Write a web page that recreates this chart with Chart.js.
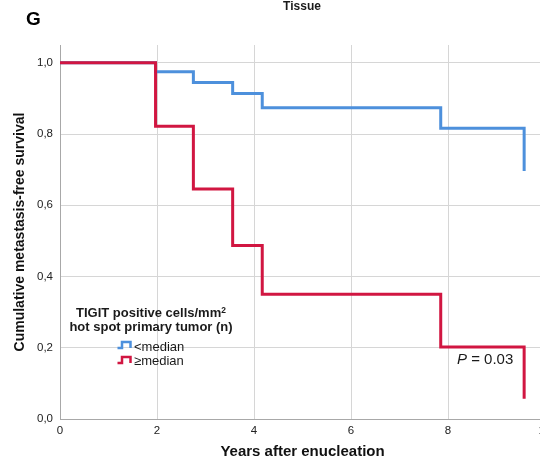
<!DOCTYPE html>
<html>
<head>
<meta charset="utf-8">
<title>Tissue</title>
<script src="https://cdn.jsdelivr.net/npm/chart.js@4.4.1/dist/chart.umd.min.js"></script>
<style>
  html, body { margin: 0; padding: 0; background: #fff; overflow: hidden; }
  #wrap {
    position: relative; width: 560px; height: 462px;
    font-family: 'Liberation Sans', Arial, Helvetica, sans-serif; color: #1a1a1a;
  }
  #km { position: absolute; left: 0; top: 0; }
  .txt { position: absolute; white-space: nowrap; }
  .panel { left: 26px; top: 9px; font-size: 19px; line-height: 19px; font-weight: bold; color: #000; }
  .title { left: 252px; width: 100px; top: 0; text-align: center; font-size: 12px; line-height: 12px; font-weight: bold; }
  .lg-head { left: 51px; width: 200px; text-align: center; font-size: 13px; line-height: 13px; font-weight: bold; }
  .lg-head sup { font-size: 0.65em; line-height: 0; vertical-align: 0.5em; }
  .lg-item { left: 134px; font-size: 13px; line-height: 13px; }
  .lg-icon { position: absolute; left: 117px; }
  .pval { left: 457px; top: 351px; font-size: 15px; line-height: 15px; }
</style>
</head>
<body>
<div id="wrap">
  <canvas id="km" width="560" height="462"></canvas>
  <div class="txt panel">G</div>
  <div class="txt title">Tissue</div>
  <div class="txt lg-head" style="top:306px">TIGIT positive cells/mm<sup>2</sup></div>
  <div class="txt lg-head" style="top:320px">hot spot primary tumor (n)</div>
  <svg class="lg-icon" style="top:340px" width="17" height="10">
    <path d="M0.5 8 H5 V2 H13.5 V8" fill="none" stroke="#4d90dc" stroke-width="2.5"/>
  </svg>
  <div class="txt lg-item" style="top:340px">&lt;median</div>
  <svg class="lg-icon" style="top:355px" width="17" height="10">
    <path d="M0.5 8 H5 V2 H13.5 V8" fill="none" stroke="#d11641" stroke-width="2.5"/>
  </svg>
  <div class="txt lg-item" style="top:354px">≥median</div>
  <div class="txt pval"><i>P</i> = 0.03</div>
</div>
<script>
// Kaplan-Meier steps: years after enucleation and survival after each event
const belowYears = [0, 1.97, 2.75, 3.56, 4.17, 7.85, 9.57];
const belowSurvival = [1, 0.975, 0.945, 0.914, 0.874, 0.816, 0.696];
const aboveYears = [0, 1.97, 2.75, 3.56, 4.17, 7.85, 9.57];
const aboveSurvival = [1, 0.822, 0.646, 0.487, 0.35, 0.202, 0.057];

const xTicks = [0, 2, 4, 6, 8, 10];
const yTicks = [0, 0.2, 0.4, 0.6, 0.8, 1.0];

const toPoints = (xs, ys) => xs.map((x, i) => ({ x, y: ys[i] }));

Chart.defaults.font.family = "'Liberation Sans', Arial, Helvetica, sans-serif";
Chart.defaults.color = '#222';

new Chart(document.getElementById('km'), {
  type: 'line',
  data: {
    datasets: [
      {
        label: '<median',
        data: toPoints(belowYears, belowSurvival),
        borderColor: '#4d90dc',
        borderWidth: 3,
        stepped: 'before',
        pointRadius: 0,
        order: 1,
      },
      {
        label: '≥median',
        data: toPoints(aboveYears, aboveSurvival),
        borderColor: '#d11641',
        borderWidth: 3,
        stepped: 'before',
        pointRadius: 0,
        order: 0,
      },
    ],
  },
  options: {
    responsive: false,
    animation: false,
    layout: { padding: { top: 45, right: 15, left: 0, bottom: 0 } },
    plugins: { legend: { display: false }, tooltip: { enabled: false } },
    scales: {
      x: {
        type: 'linear',
        min: 0,
        max: 10,
        afterBuildTicks(scale) { scale.ticks = xTicks.map(value => ({ value })); },
        afterFit(scale) { scale.height = 43; },
        ticks: { padding: 5, font: { size: 11.5 }, callback: v => String(v) },
        grid: { color: '#d6d6d6', drawTicks: false },
        border: { color: '#a8a8a8' },
        title: {
          display: true,
          text: 'Years after enucleation',
          color: '#111',
          font: { size: 15, weight: 'bold' },
          padding: { top: 0, bottom: 1 },
        },
      },
      y: {
        type: 'linear',
        min: 0,
        max: 1.05,
        afterBuildTicks(scale) { scale.ticks = yTicks.map(value => ({ value })); },
        afterFit(scale) { scale.width = 60; },
        ticks: { padding: 7, font: { size: 11.5 }, callback: v => v.toFixed(1).replace('.', ',') },
        grid: { color: '#d6d6d6', drawTicks: false },
        border: { color: '#a8a8a8' },
        title: {
          display: true,
          text: 'Cumulative metastasis-free survival',
          color: '#111',
          font: { size: 14, weight: 'bold' },
          padding: { top: 12, bottom: 0 },
        },
      },
    },
  },
});
</script>
</body>
</html>
